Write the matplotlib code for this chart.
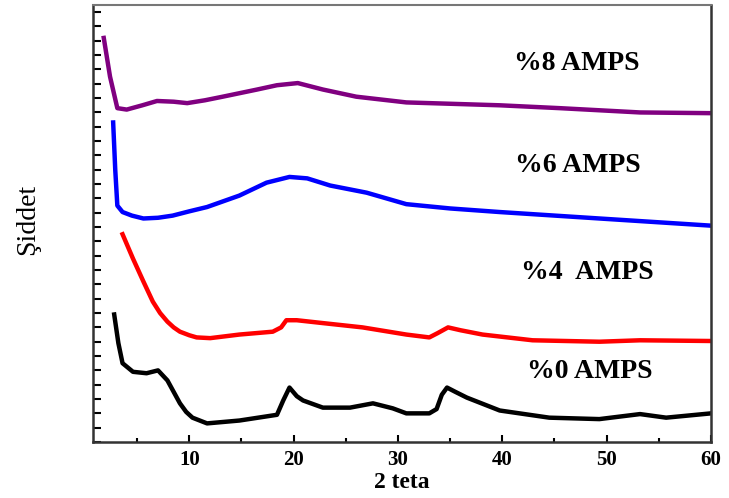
import numpy as np
import matplotlib.pyplot as plt
from matplotlib.ticker import MultipleLocator

# 2 teta values and intensities (arbitrary stacked units)
x_8 = [1.8, 2.4, 3.1, 4.0, 5.5, 6.9, 8.5, 9.8, 11.5, 13.2, 16.5, 18.4, 20.4, 22.8, 26.0, 30.8,
       39.75, 45.5, 53.2, 60.0]
y_8 = [28.2, 25.5, 23.3, 23.2, 23.5, 23.8, 23.75, 23.65, 23.85, 24.1, 24.6, 24.9, 25.05, 24.6, 24.1, 23.7,
       23.5, 23.3, 23.0, 22.95]

x_6 = [2.7, 2.9, 3.1, 3.6, 4.5, 5.6, 7.0, 8.4, 10.0, 11.7, 14.8, 17.4, 19.6, 21.3, 23.5, 27.0, 30.8,
       35.0, 39.75, 49.3, 60.0]
y_6 = [22.3, 19.0, 16.5, 16.05, 15.8, 15.6, 15.65, 15.8, 16.1, 16.4, 17.2, 18.1, 18.5, 18.4, 17.9, 17.4, 16.6,
       16.3, 16.05, 15.6, 15.1]

x_4 = [3.6, 4.6, 5.6, 6.5, 7.2, 7.9, 8.5, 9.1, 10.0, 10.7, 12.0, 14.8, 18.0, 18.8, 19.3, 20.3, 22.8,
       26.6, 30.8, 33.0, 33.8, 34.8, 36.0, 38.1, 42.9, 49.3, 53.2, 60.0]
y_4 = [14.5, 12.8, 11.2, 9.8, 9.0, 8.4, 8.0, 7.7, 7.45, 7.3, 7.25, 7.5, 7.7, 8.0, 8.5, 8.5, 8.3,
       8.0, 7.5, 7.3, 7.6, 8.0, 7.8, 7.5, 7.1, 7.0, 7.1, 7.05]

x_0 = [2.8, 3.2, 3.6, 4.6, 5.9, 7.0, 7.9, 8.5, 9.1, 9.7, 10.3, 11.7, 14.8, 18.4, 19.0, 19.6, 20.3,
       20.9, 22.8, 25.4, 27.6, 29.5, 30.8, 33.0, 33.7, 34.2, 34.7, 35.5, 36.6, 39.75, 44.5, 49.3,
       53.2, 55.7, 60.0]
y_0 = [8.9, 6.9, 5.5, 4.9, 4.8, 5.0, 4.3, 3.5, 2.7, 2.1, 1.7, 1.3, 1.5, 1.9, 2.9, 3.8, 3.2,
       2.9, 2.4, 2.4, 2.7, 2.35, 2.0, 2.0, 2.3, 3.3, 3.8, 3.5, 3.1, 2.2, 1.7, 1.6,
       1.95, 1.7, 2.0]

labels = ["%8 AMPS", "%6 AMPS", "%4  AMPS", "%0 AMPS"]
label_pos = [(47.1, 26.4), (47.2, 19.3), (48.1, 11.8), (48.4, 4.9)]

series = [(x_8, y_8, "#800080"), (x_6, y_6, "#0000ff"), (x_4, y_4, "#ff0000"), (x_0, y_0, "black")]

fig = plt.figure(figsize=(7.29, 4.98), dpi=100)
ax = fig.add_axes([0.1276, 0.1124, 0.8477, 0.8776])

for xs, ys, c in series:
    ax.plot(xs, ys, color=c, lw=3.2, solid_joinstyle="round")

for txt, (tx, ty) in zip(labels, label_pos):
    ax.text(tx, ty, txt, ha="center", va="center", fontsize=20,
            fontweight="bold", family="Liberation Serif")

ax.set_xlim(0.77, 60)
ax.set_ylim(0, 30.5)
ax.xaxis.set_minor_locator(MultipleLocator(5))
ax.yaxis.set_major_locator(MultipleLocator(1))
ax.set_xticks([10, 20, 30, 40, 50, 60])
ax.set_yticklabels([])
ax.tick_params(axis="x", which="major", direction="in", length=5, width=1.5,
               labelsize=15, pad=6)
ax.tick_params(axis="x", which="minor", direction="in", length=3, width=1.5)
ax.tick_params(axis="y", direction="in", length=6, width=1.5)
for lab in ax.get_xticklabels():
    lab.set_fontweight("bold")
    lab.set_family("Liberation Serif")

for side in ["left", "bottom", "right"]:
    ax.spines[side].set_linewidth(1.8)
    ax.spines[side].set_color("#333333")
ax.spines["top"].set_linewidth(1.5)
ax.spines["top"].set_color("#777777")

ax.set_xlabel("2 teta", fontsize=17, fontweight="bold", family="Liberation Serif", labelpad=1)
fig.text(0.038, 0.56, "Şiddet", rotation=90, ha="center", va="center",
         fontsize=20, family="Liberation Serif")

fig.savefig("out.png", dpi=100)
